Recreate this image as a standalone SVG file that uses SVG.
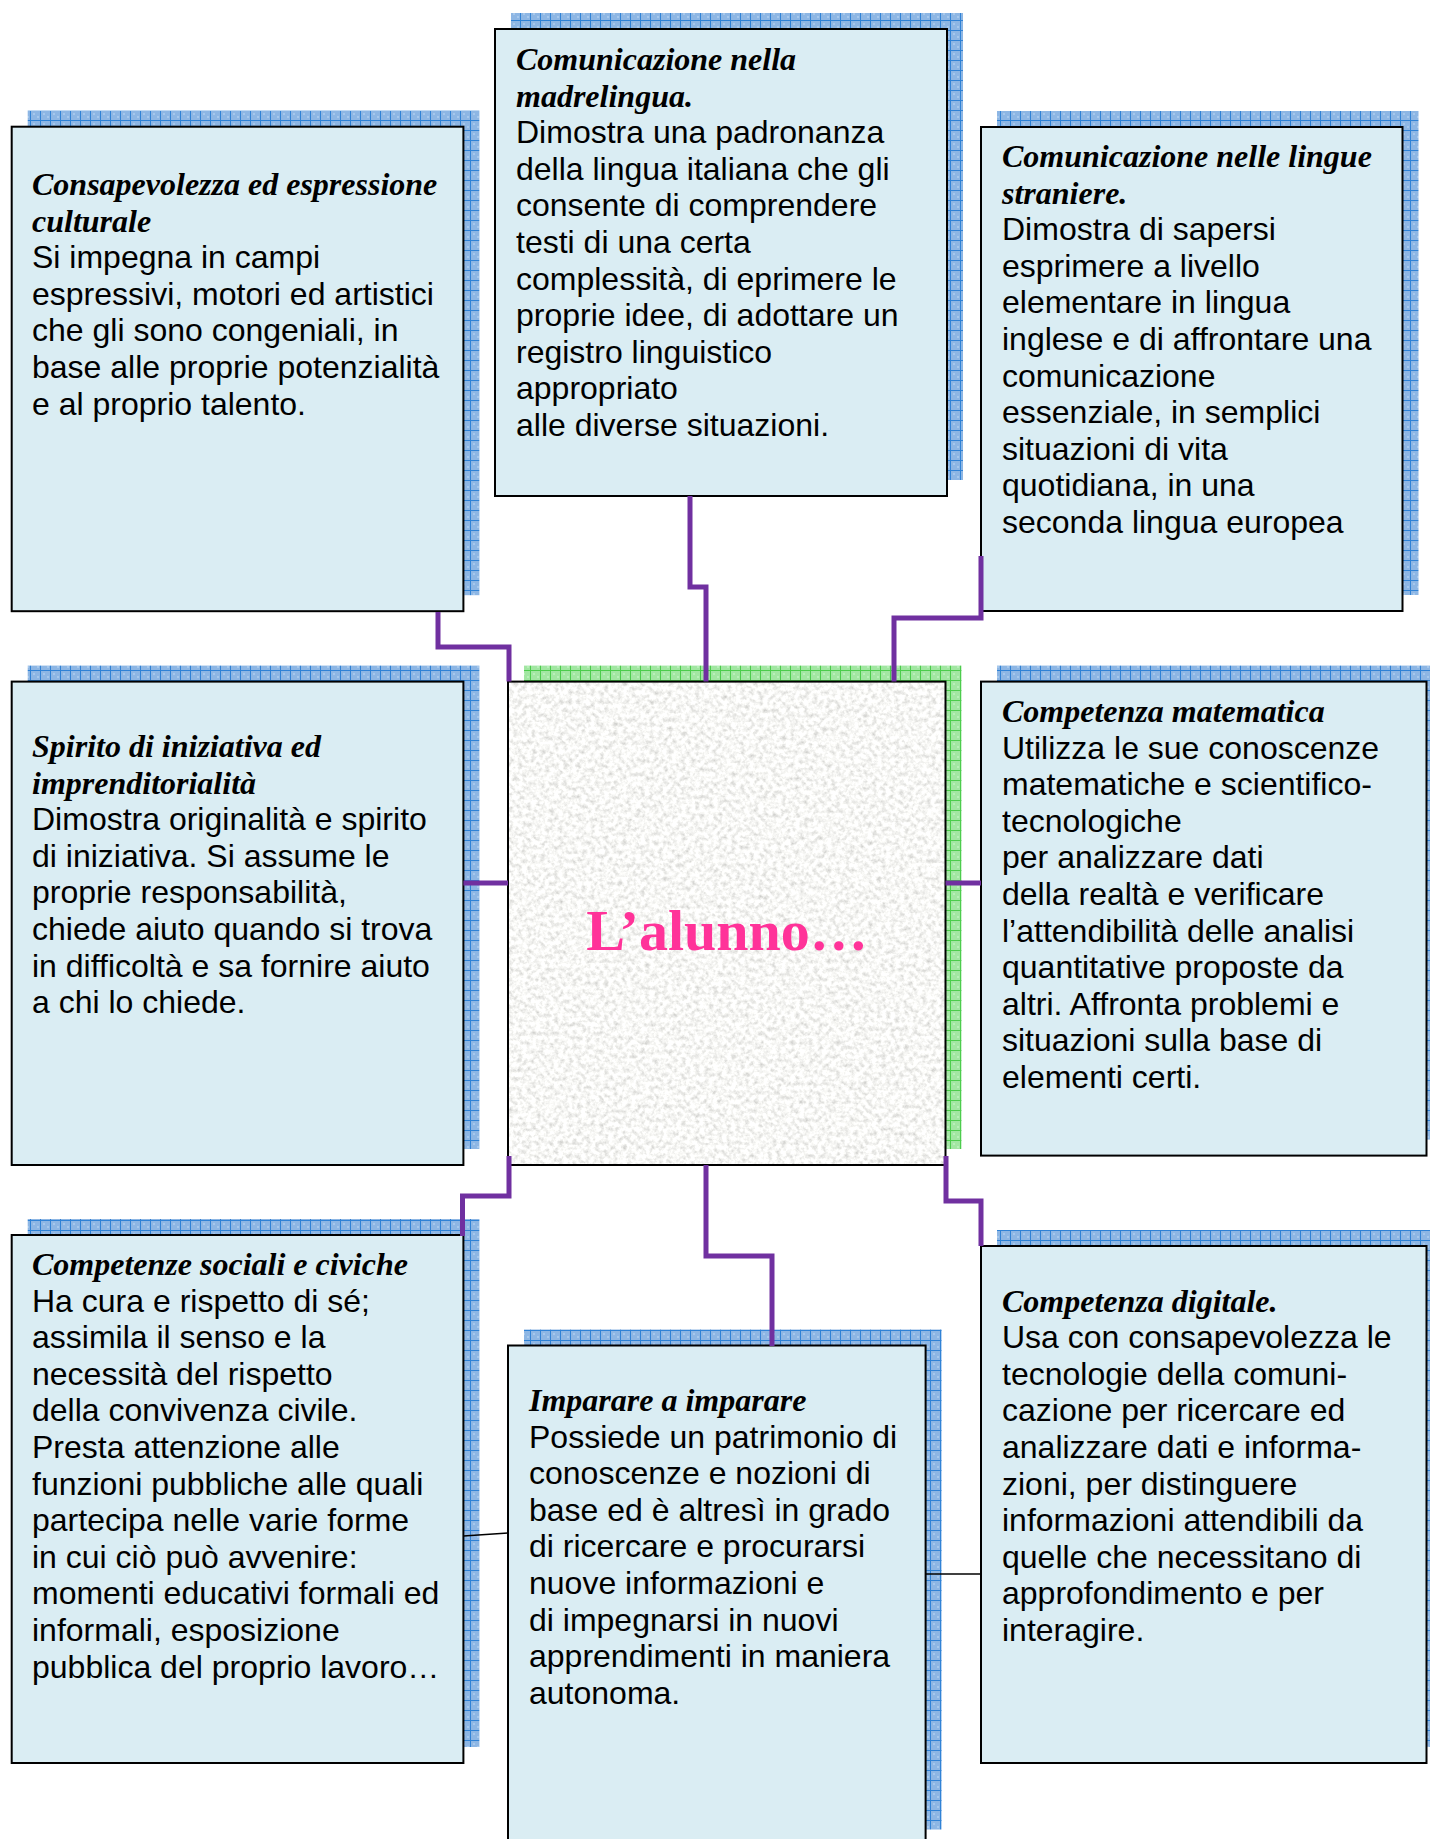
<svg xmlns="http://www.w3.org/2000/svg" width="1430" height="1839" viewBox="0 0 1430 1839">
<style>
.box{fill:#daedf3;stroke:#000;stroke-width:2}
.sh{fill:url(#blueGrid)}
.shg{fill:url(#greenGrid)}
.t{font-family:"Liberation Serif","Times New Roman",serif;font-weight:bold;font-style:italic;font-size:32px;fill:#000}
.b{font-family:"Liberation Sans",Arial,sans-serif;font-size:32px;fill:#000}
.con{fill:none;stroke:#7030a0;stroke-width:5;stroke-linejoin:miter;stroke-linecap:butt}
.thin{fill:none;stroke:#000;stroke-width:1.6}
.center{font-family:"Liberation Serif","Times New Roman",serif;font-weight:bold;font-size:58px;fill:#ff3399}
</style>
<defs>
<pattern id="blueGrid" width="10" height="10" patternUnits="userSpaceOnUse">
<rect width="10" height="10" fill="#8db6e4"/>
<rect x="3" y="3" width="2" height="2" fill="#a6c8ec"/>
<rect x="7" y="6" width="2" height="2" fill="#a6c8ec"/>
<path d="M0 0.5H10M0.5 0V10" stroke="#2f82d6" stroke-width="1"/>
</pattern>
<pattern id="greenGrid" width="10" height="10" patternUnits="userSpaceOnUse">
<rect width="10" height="10" fill="#a2e6a2"/>
<rect x="3" y="3" width="2" height="2" fill="#b8efb8"/>
<rect x="7" y="6" width="2" height="2" fill="#b8efb8"/>
<path d="M0 0.5H10M0.5 0V10" stroke="#4ccc4c" stroke-width="1"/>
</pattern>
<filter id="granite" x="508" y="681.6" width="437.5" height="483.4" filterUnits="userSpaceOnUse">
<feTurbulence type="fractalNoise" baseFrequency="0.22" numOctaves="3" seed="7" result="n"/>
<feColorMatrix in="n" type="matrix" values="0.75 0 0 0 0.56  0.75 0 0 0 0.56  0.75 0 0 0 0.54  0 0 0 0 1"/>
</filter>
</defs>
<rect width="1430" height="1839" fill="#fff"/>

<g id="node-consapevolezza">
<rect class="sh" x="27.7" y="110.7" width="451.7" height="484.5"/>
<rect class="box" x="11.7" y="126.7" width="451.7" height="484.5"/>
<text class="t" x="32" y="195"><tspan x="32">Consapevolezza ed espressione</tspan><tspan x="32" dy="36.6">culturale</tspan></text>
<text class="b" x="32" y="268.2"><tspan x="32">Si impegna in campi</tspan><tspan x="32" dy="36.6">espressivi, motori ed artistici</tspan><tspan x="32" dy="36.6">che gli sono congeniali, in</tspan><tspan x="32" dy="36.6">base alle proprie potenzialità</tspan><tspan x="32" dy="36.6">e al proprio talento.</tspan></text>
</g>

<g id="node-madrelingua">
<rect class="sh" x="511" y="13" width="452" height="467"/>
<rect class="box" x="495" y="29" width="452" height="467"/>
<text class="t" x="516" y="70"><tspan x="516">Comunicazione nella</tspan><tspan x="516" dy="36.6">madrelingua.</tspan></text>
<text class="b" x="516" y="143.2"><tspan x="516">Dimostra una padronanza</tspan><tspan x="516" dy="36.6">della lingua italiana che gli</tspan><tspan x="516" dy="36.6">consente di comprendere</tspan><tspan x="516" dy="36.6">testi di una certa</tspan><tspan x="516" dy="36.6">complessità, di eprimere le</tspan><tspan x="516" dy="36.6">proprie idee, di adottare un</tspan><tspan x="516" dy="36.6">registro linguistico</tspan><tspan x="516" dy="36.6">appropriato</tspan><tspan x="516" dy="36.6">alle diverse situazioni.</tspan></text>
</g>

<g id="node-lingue-straniere">
<rect class="sh" x="997" y="111" width="421.5" height="484"/>
<rect class="box" x="981" y="127" width="421.5" height="484"/>
<text class="t" x="1002" y="167"><tspan x="1002">Comunicazione nelle lingue</tspan><tspan x="1002" dy="36.6">straniere.</tspan></text>
<text class="b" x="1002" y="240.2"><tspan x="1002">Dimostra di sapersi</tspan><tspan x="1002" dy="36.6">esprimere a livello</tspan><tspan x="1002" dy="36.6">elementare in lingua</tspan><tspan x="1002" dy="36.6">inglese e di affrontare una</tspan><tspan x="1002" dy="36.6">comunicazione</tspan><tspan x="1002" dy="36.6">essenziale, in semplici</tspan><tspan x="1002" dy="36.6">situazioni di vita</tspan><tspan x="1002" dy="36.6">quotidiana, in una</tspan><tspan x="1002" dy="36.6">seconda lingua europea</tspan></text>
</g>

<g id="node-spirito">
<rect class="sh" x="27.7" y="665.6" width="451.7" height="483.4"/>
<rect class="box" x="11.7" y="681.6" width="451.7" height="483.4"/>
<text class="t" x="32" y="757"><tspan x="32">Spirito di iniziativa ed</tspan><tspan x="32" dy="36.6">imprenditorialità</tspan></text>
<text class="b" x="32" y="830.2"><tspan x="32">Dimostra originalità e spirito</tspan><tspan x="32" dy="36.6">di iniziativa. Si assume le</tspan><tspan x="32" dy="36.6">proprie responsabilità,</tspan><tspan x="32" dy="36.6">chiede aiuto quando si trova</tspan><tspan x="32" dy="36.6">in difficoltà e sa fornire aiuto</tspan><tspan x="32" dy="36.6">a chi lo chiede.</tspan></text>
</g>

<g id="node-alunno">
<rect class="shg" x="524" y="665.6" width="437.5" height="483.4"/>
<rect x="508" y="681.6" width="437.5" height="483.4" fill="#ededeb" filter="url(#granite)"/>
<rect x="508" y="681.6" width="437.5" height="483.4" fill="none" stroke="#000" stroke-width="2"/>
<text class="center" x="727" y="950" text-anchor="middle">L’alunno…</text>
</g>

<g id="node-matematica">
<rect class="sh" x="997" y="665.6" width="445.5" height="474"/>
<rect class="box" x="981" y="681.6" width="445.5" height="474"/>
<text class="t" x="1002" y="722">Competenza matematica</text>
<text class="b" x="1002" y="758.6"><tspan x="1002">Utilizza le sue conoscenze</tspan><tspan x="1002" dy="36.6">matematiche e scientifico-</tspan><tspan x="1002" dy="36.6">tecnologiche</tspan><tspan x="1002" dy="36.6">per analizzare dati</tspan><tspan x="1002" dy="36.6">della realtà e verificare</tspan><tspan x="1002" dy="36.6">l’attendibilità delle analisi</tspan><tspan x="1002" dy="36.6">quantitative proposte da</tspan><tspan x="1002" dy="36.6">altri. Affronta problemi e</tspan><tspan x="1002" dy="36.6">situazioni sulla base di</tspan><tspan x="1002" dy="36.6">elementi certi.</tspan></text>
</g>

<g id="node-sociali">
<rect class="sh" x="27.7" y="1219" width="451.7" height="528"/>
<rect class="box" x="11.7" y="1235" width="451.7" height="528"/>
<text class="t" x="32" y="1275">Competenze sociali e civiche</text>
<text class="b" x="32" y="1311.6"><tspan x="32">Ha cura e rispetto di sé;</tspan><tspan x="32" dy="36.6">assimila il senso e la</tspan><tspan x="32" dy="36.6">necessità del rispetto</tspan><tspan x="32" dy="36.6">della convivenza civile.</tspan><tspan x="32" dy="36.6">Presta attenzione alle</tspan><tspan x="32" dy="36.6">funzioni pubbliche alle quali</tspan><tspan x="32" dy="36.6">partecipa nelle varie forme</tspan><tspan x="32" dy="36.6">in cui ciò può avvenire:</tspan><tspan x="32" dy="36.6">momenti educativi formali ed</tspan><tspan x="32" dy="36.6">informali, esposizione</tspan><tspan x="32" dy="36.6">pubblica del proprio lavoro…</tspan></text>
</g>

<g id="node-imparare">
<rect class="sh" x="524" y="1329.5" width="417.6" height="500"/>
<rect class="box" x="508" y="1345.5" width="417.6" height="510"/>
<text class="t" x="529" y="1411">Imparare a imparare</text>
<text class="b" x="529" y="1447.6"><tspan x="529">Possiede un patrimonio di</tspan><tspan x="529" dy="36.6">conoscenze e nozioni di</tspan><tspan x="529" dy="36.6">base ed è altresì in grado</tspan><tspan x="529" dy="36.6">di ricercare e procurarsi</tspan><tspan x="529" dy="36.6">nuove informazioni e</tspan><tspan x="529" dy="36.6">di impegnarsi in nuovi</tspan><tspan x="529" dy="36.6">apprendimenti in maniera</tspan><tspan x="529" dy="36.6">autonoma.</tspan></text>
</g>

<g id="node-digitale">
<rect class="sh" x="997" y="1230" width="445.5" height="517"/>
<rect class="box" x="981" y="1246" width="445.5" height="517"/>
<text class="t" x="1002" y="1311.5">Competenza digitale.</text>
<text class="b" x="1002" y="1348.1"><tspan x="1002">Usa con consapevolezza le</tspan><tspan x="1002" dy="36.6">tecnologie della comuni-</tspan><tspan x="1002" dy="36.6">cazione per ricercare ed</tspan><tspan x="1002" dy="36.6">analizzare dati e informa-</tspan><tspan x="1002" dy="36.6">zioni, per distinguere</tspan><tspan x="1002" dy="36.6">informazioni attendibili da</tspan><tspan x="1002" dy="36.6">quelle che necessitano di</tspan><tspan x="1002" dy="36.6">approfondimento e per</tspan><tspan x="1002" dy="36.6">interagire.</tspan></text>
</g>

<g id="connectors">
<path class="con" d="M438 612V647H509V681.6"/>
<path class="con" d="M690 496V587H706V681.6"/>
<path class="con" d="M981 556V618H894V681.6"/>
<path class="con" d="M463.4 883H508"/>
<path class="con" d="M945.5 883H981"/>
<path class="con" d="M509 1156V1196H462.5V1236"/>
<path class="con" d="M706 1165V1256H772V1346"/>
<path class="con" d="M946 1156V1201H981V1246"/>
<path class="thin" d="M463.4 1536L508 1533"/>
<path class="thin" d="M925.6 1574H981"/>
</g>
</svg>
